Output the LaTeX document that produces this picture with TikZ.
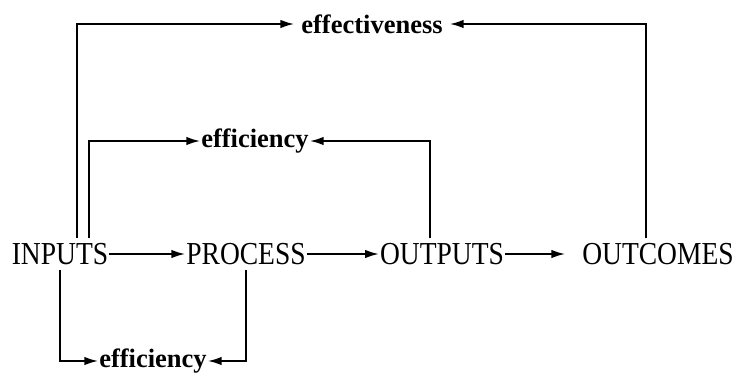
\documentclass[tikz,border=0pt]{standalone}
\usepackage{fontspec}
\setmainfont{Liberation Serif}
\newfontfamily\tallfont[FakeStretch=0.86]{Liberation Serif}
\usetikzlibrary{arrows.meta}

\begin{document}
\begin{tikzpicture}[x=1pt,y=1pt,>={Latex[length=14pt,width=8.5pt]},line width=2pt,
  every node/.style={inner xsep=1pt,inner ysep=5pt,outer sep=0pt,font=\tallfont\fontsize{32}{34}\selectfont},
  lbl/.style={font=\bfseries\fontsize{26.5}{28}\selectfont,inner ysep=2pt}]
\useasboundingbox (0,0) rectangle (735,386);
\node (in) at (60,132) {INPUTS};
\node (pr) at (246,132) {PROCESS};
\node (op) at (442,132) {OUTPUTS};
\node (oc) at (658,132) {OUTCOMES};
\node[lbl,inner xsep=7pt] (eff) at (372,362) {effectiveness};
\node[lbl] (em) at (255,245) {efficiency};
\node[lbl] (eb) at (153,25) {efficiency};
\draw[->] (in)--(pr);
\draw[->] (pr)--(op);
\draw[->,shorten >=16pt] (op)--(oc);
\draw[->] ([xshift=17pt]in.north) |- (eff.west);
\draw[->] ([xshift=-12pt]oc.north) |- (eff.east);
\draw[->] ([xshift=29pt]in.north) |- (em.west);
\draw[->] ([xshift=-12pt]op.north) |- (em.east);
\draw[->] (in.south) |- (eb.west);
\draw[->] (pr.south) |- (eb.east);
\end{tikzpicture}
\end{document}
